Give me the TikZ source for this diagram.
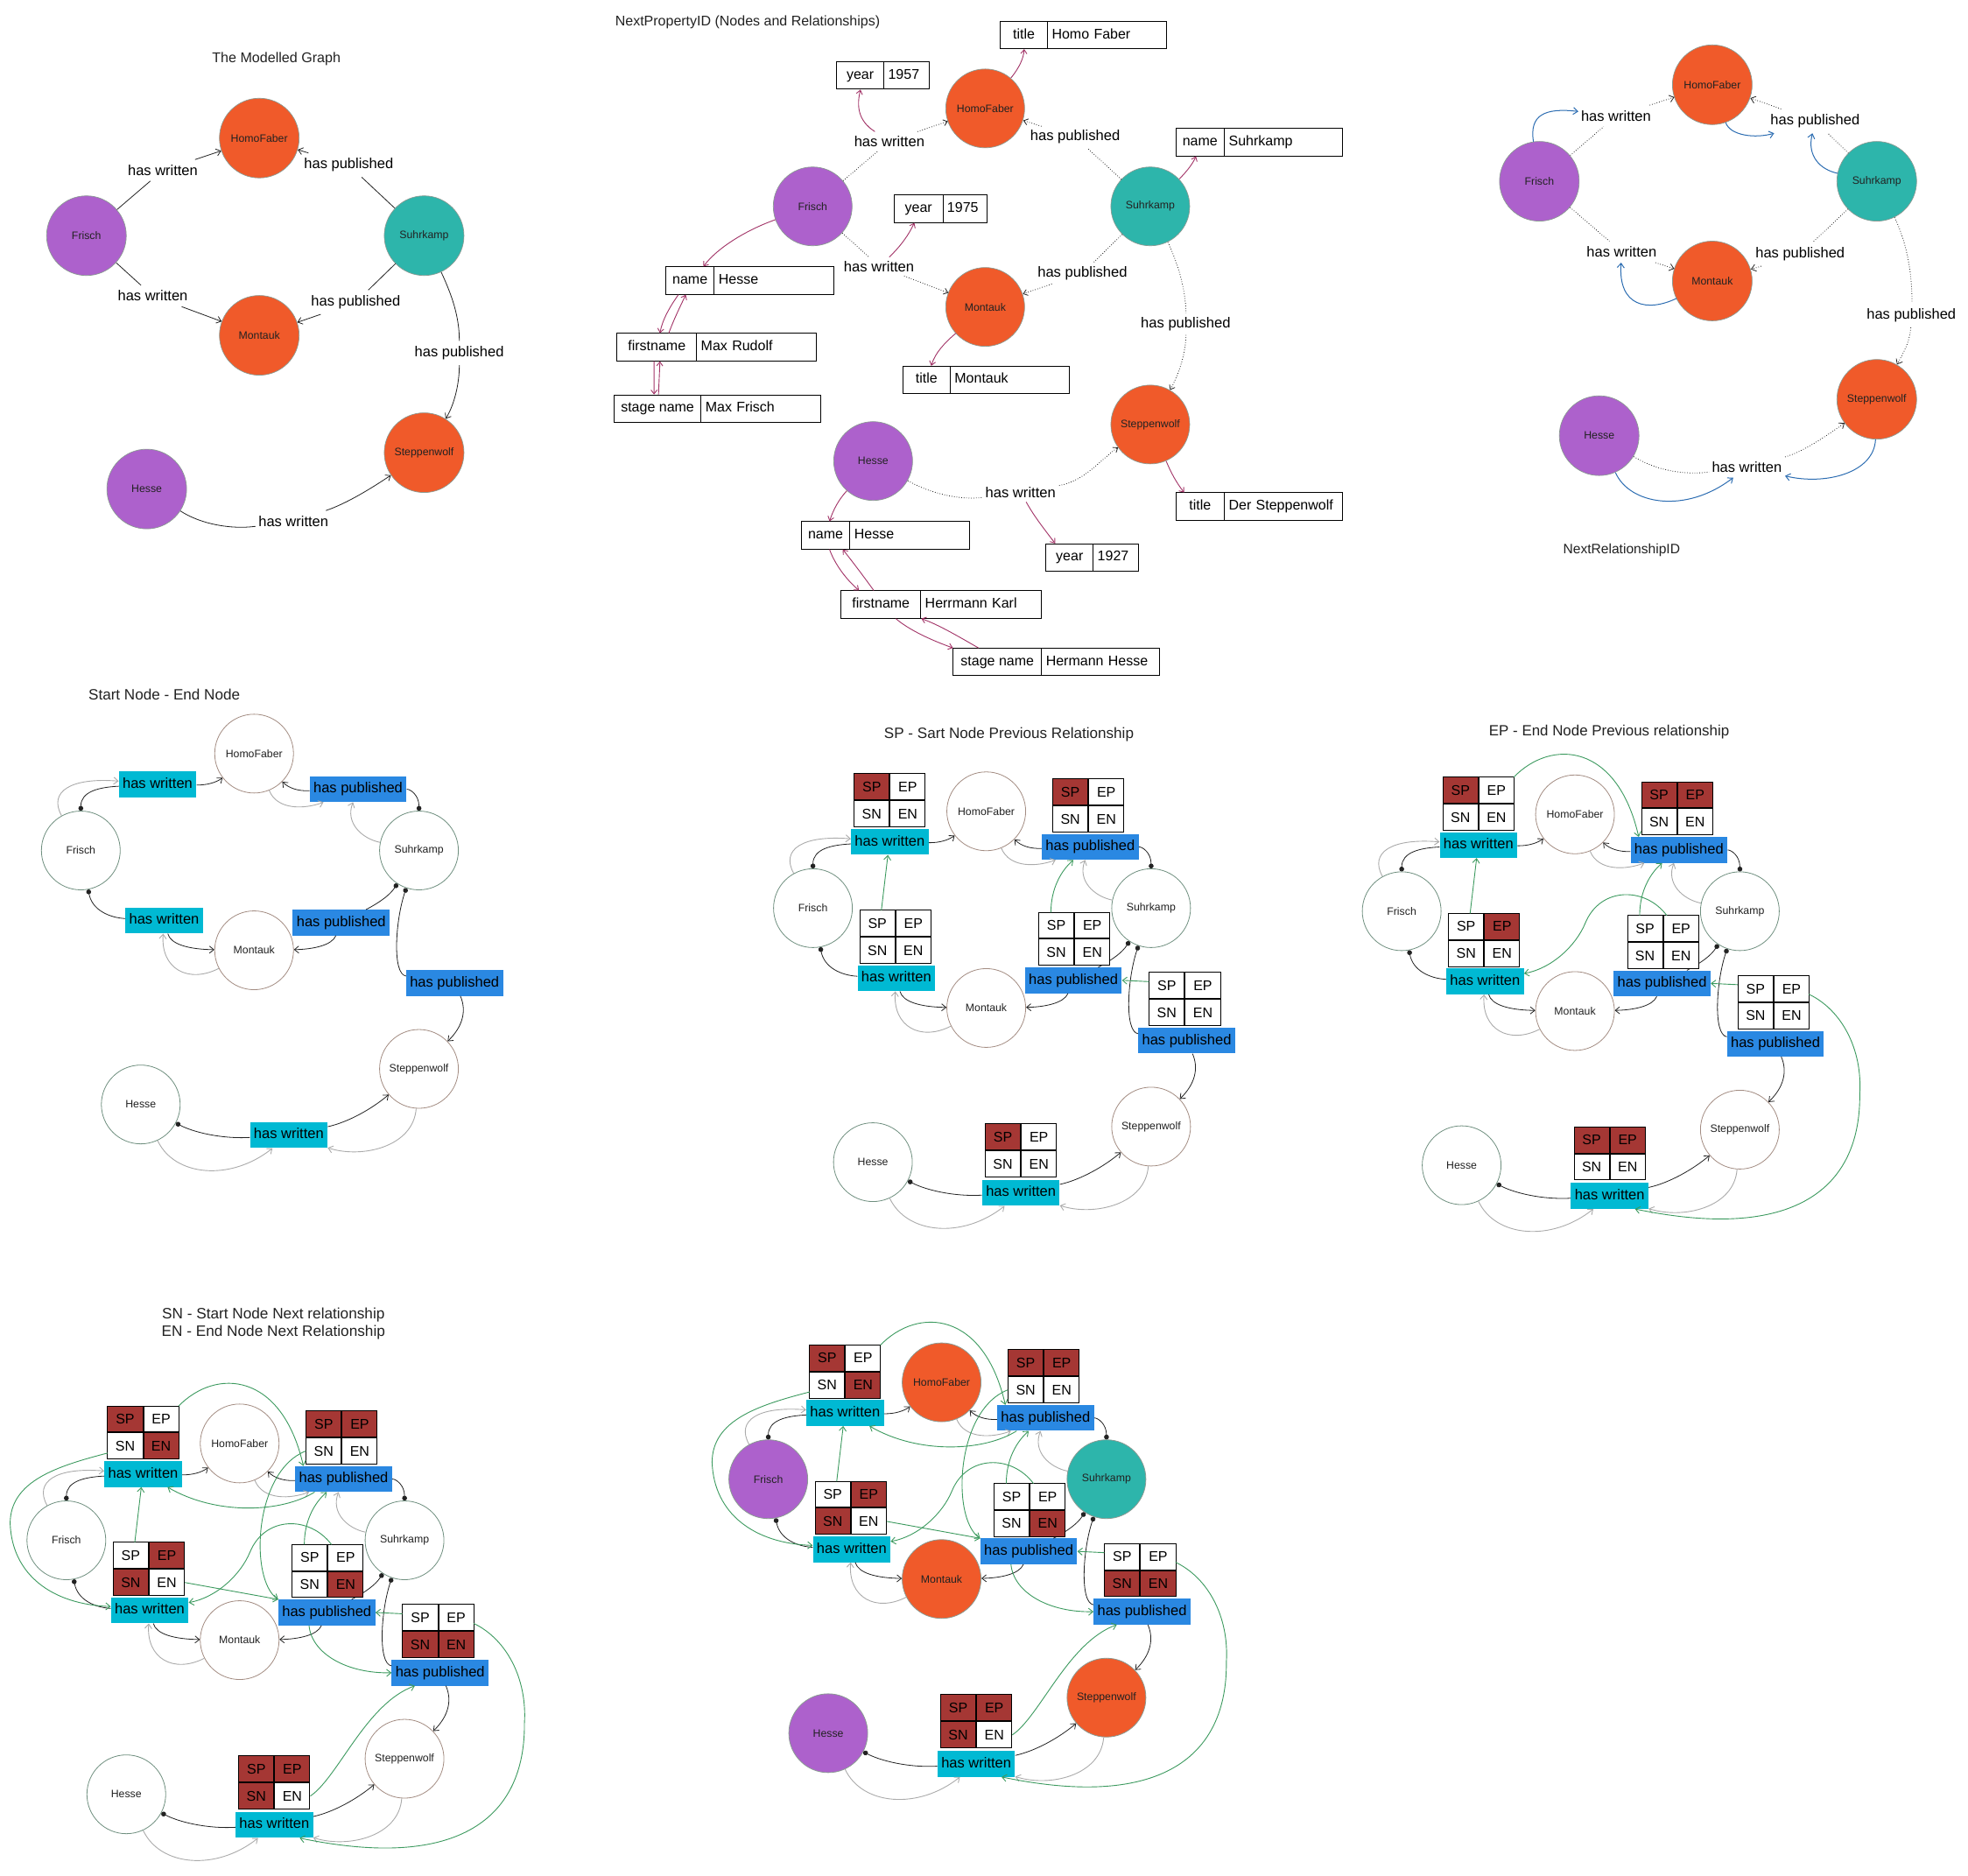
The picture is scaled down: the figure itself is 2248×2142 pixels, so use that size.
\documentclass[tikz,border=0pt]{standalone}
\usepackage{fontspec}
\setmainfont{Liberation Sans}
\usetikzlibrary{arrows.meta,shapes.geometric}
\definecolor{corg}{HTML}{F05A2A}
\definecolor{cpur}{HTML}{AD61CC}
\definecolor{cteal}{HTML}{2DB5AB}
\definecolor{chw}{HTML}{00B9D3}
\definecolor{chp}{HTML}{2A88E2}
\definecolor{tred}{HTML}{A53734}
\definecolor{cgrn}{HTML}{3C9A5F}
\definecolor{cgry}{HTML}{ABABAB}
\definecolor{cblu}{HTML}{2C6DB2}
\definecolor{cprop}{HTML}{A23367}
\definecolor{csb}{HTML}{6F8F7F}
\definecolor{ceb}{HTML}{A38C82}
\definecolor{cnb}{HTML}{8A9A92}
\definecolor{cblk}{HTML}{222222}
\definecolor{ctxt}{HTML}{222222}
\newcommand\myfs[1]{\fontsize{#1}{#1}\selectfont}
\tikzset{
 >={Straight Barb[length=5pt,width=8pt]},
 gnode/.style={circle, minimum size=90pt, inner sep=0pt, line width=0.8pt, font=\myfs{12.3}, text=ctxt},
 pers/.style={draw=csb, fill=white},
 pub/.style={draw=csb, fill=white},
 book/.style={draw=ceb, fill=white},
 hw/.style={fill=chw, font=\myfs{16.5}, minimum height=29.4pt, inner xsep=4.4pt, inner ysep=0pt, text height=12pt, text depth=3.4pt},
 hp/.style={hw, fill=chp},
 tcell/.style={draw=black, line width=1pt, minimum width=40.1pt, minimum height=29.9pt, inner sep=0pt, font=\myfs{16}, text height=11.5pt, text depth=0pt},
 tbox/.style={minimum width=80.2pt, minimum height=59.8pt, inner sep=0pt},
 barr/.style={draw=cblk, line width=0.8pt, ->},
 bdot/.style={draw=cblk, line width=0.8pt, {Circle[length=5.5pt]}-},
 garr/.style={draw=cgry, line width=0.9pt, ->},
 grn/.style={draw=cgrn, line width=0.9pt, ->},
 cn1/.style={circle, draw=cnb, line width=0.7pt, minimum size=91pt, inner sep=0pt, font=\myfs{12.3}, text=ctxt},
 cn2/.style={circle, draw=cnb, line width=0.7pt, minimum size=90pt, inner sep=0pt, font=\myfs{12.3}, text=ctxt},
 cn3/.style={circle, draw=cnb, line width=0.7pt, minimum size=91pt, inner sep=0pt, font=\myfs{12.3}, text=ctxt},
 lab1/.style={font=\myfs{16.5}, inner xsep=3.4pt, inner ysep=6pt},
 lab2/.style={font=\myfs{16.6}, inner xsep=3.4pt, inner ysep=4.5pt},
 lab3/.style={font=\myfs{16.5}, inner xsep=3.2pt, inner ysep=6pt},
 e1/.style={draw=cblk, line width=0.8pt},
 dotl/.style={draw=cblk, line width=0.8pt, dotted},
 sarr/.style={-{Straight Barb[length=4.5pt,width=7pt]}},
 parr/.style={draw=cprop, line width=0.9pt, sarr},
 blu/.style={draw=cblu, line width=1pt, ->},
 pk/.style={draw=black, line width=0.9pt, minimum height=31.3pt, inner sep=0pt, font=\myfs{16}, text height=11.5pt, text depth=3.4pt},
 pv/.style={pk, inner xsep=5pt, align=left},
 ttl/.style={text=ctxt}
}
\newcommand\pbox[7]{%
 \pgfmathsetmacro\pbkw{(#3-#2)*1.684}\pgfmathsetmacro\pbvw{(#4-#3)*1.684-10}%
 \node[pk, minimum width=\pbkw pt, anchor=north west] (#1k) at (#2,#5) {#6};
 \node[pv, text width=\pbvw pt, anchor=north west] (#1) at (#3,#5) {\mbox{#7}};
}
\newcommand\rtab[7]{%
 \node[tbox] (#1) at (#2,#3) {};
 \node[tcell,fill=#4,anchor=south east] (#1sp) at (#2,#3) {SP};
 \node[tcell,fill=#5,anchor=south west] (#1ep) at (#2,#3) {EP};
 \node[tcell,fill=#6,anchor=north east] (#1sn) at (#2,#3) {SN};
 \node[tcell,fill=#7,anchor=north west] (#1en) at (#2,#3) {EN};
}
\newcommand\relgraph[1]{%
 \node[gnode,pers] (#1F) at (0,0) {Frisch};
 \node[gnode,book] (#1HF) at (185,-98) {HomoFaber};
 \node[gnode,pub] (#1S) at (361,0) {Suhrkamp};
 \node[gnode,book] (#1M) at (185,101) {Montauk};
 \node[gnode,book] (#1St) at (361,221) {Steppenwolf};
 \node[gnode,pers] (#1H) at (64,257) {Hesse};
 \node[hw] (#1hw1) at (82,-67) {has written};
 \node[hp] (#1hp1) at (296,-62) {has published};
 \node[hw] (#1hw2) at (89,71) {has written};
 \node[hp] (#1hp2) at (278,73) {has published};
 \node[hp] (#1hp3) at (399,134) {has published};
 \node[hw] (#1hw3) at (222,288) {has written};
 \draw[bdot] (#1F) .. controls (0,-60) and (20,-64) .. (#1hw1);
 \draw[barr] (#1hw1) .. controls (135,-66) and (145,-69) .. (#1HF);
 \draw[bdot] (#1S) .. controls (361,-56) and (352,-62) .. (#1hp1);
 \draw[barr] (#1hp1) .. controls (232,-60) and (222,-63) .. (#1HF);
 \draw[bdot] (#1F) .. controls (12,60) and (30,68) .. (#1hw2);
 \draw[barr] (#1hw2) .. controls (96,95) and (115,100) .. (#1M);
 \draw[bdot] (#1S) .. controls (330,45) and (320,52) .. (#1hp2);
 \draw[barr] (#1hp2) .. controls (268,96) and (248,100) .. (#1M);
 \draw[bdot] (#1S) .. controls (336,70) and (332,125) .. (#1hp3);
 \draw[barr] (#1hp3) .. controls (412,162) and (408,178) .. (#1St);
 \draw[bdot] (#1H) .. controls (120,285) and (150,292) .. (#1hw3);
 \draw[barr] (#1hw3) .. controls (285,275) and (310,262) .. (#1St);
 \draw[garr] (#1F) .. controls (-35,-60) and (-10,-74) .. (#1hw1);
 \draw[garr] (#1HF) .. controls (210,-40) and (240,-42) .. (#1hp1);
 \draw[garr] (#1S) .. controls (300,-12) and (282,-28) .. (#1hp1);
 \draw[garr] (#1M) .. controls (115,135) and (85,120) .. (#1hw2);
 \draw[garr] (#1H) .. controls (100,330) and (160,335) .. (#1hw3);
 \draw[garr] (#1St) .. controls (355,300) and (300,312) .. (#1hw3);
}
\newcommand\greenA[1]{%
 \draw[grn] ([xshift=-15pt]#1T3.north) -- ([xshift=-2pt]#1hw1.south);
 \draw[grn] ([xshift=-25pt]#1T4.north) .. controls (254,-20) and (265,-38) .. ([xshift=-18pt]#1hp1.south);
 \draw[grn] ([yshift=4pt]#1T5sp.west) -- (#1hp2.east);
}
\newcommand\greenB[1]{%
 \draw[grn] (#1T1.north east) .. controls (160,-175) and (230,-170) .. ([xshift=-43pt]#1hp1.north);
 \draw[grn] ([xshift=4pt]#1T4.north) .. controls (260,-25) and (212,-25) .. (196,12) .. controls (186,35) and (160,58) .. ([yshift=8pt]#1hw2.east);
 \draw[grn] ([yshift=8pt]#1T5.east) .. controls (470,100) and (492,140) .. (489,185) .. controls (490,280) and (420,335) .. ([xshift=27pt]#1hw3.south);
}
\newcommand\greenC[1]{%
 \draw[grn] ([yshift=6pt]#1T1.south west) .. controls (-10,-75) and (-60,-60) .. (-60,-17) .. controls (-58,35) and (-15,65) .. ([yshift=4pt]#1hw2.west);
 \draw[grn] (#1T3en.east) -- (#1hp2.north west);
 \draw[grn] ([xshift=-31pt]#1hp1.south) .. controls (230,-28) and (160,-25) .. ([xshift=26pt]#1hw1.south);
 \draw[grn] (#1T2sn.west) .. controls (200,-70) and (195,40) .. (#1hp2.north west);
 \draw[grn] ([xshift=-19pt]#1hp2.south) .. controls (262,115) and (300,135) .. (#1hp3.west);
 \draw[grn] (#1T6en.east) .. controls (290,240) and (320,165) .. ([xshift=-27pt]#1hp3.south);
}
\newcommand\fulltabs[1]{%
 \rtab{#1T1}{82}{-109}{tred}{white}{white}{tred}
 \rtab{#1T2}{294}{-104}{tred}{tred}{white}{white}
 \rtab{#1T3}{88}{29}{white}{tred}{tred}{white}
 \rtab{#1T4}{279}{31}{white}{white}{white}{tred}
 \rtab{#1T5}{397}{92}{white}{white}{tred}{tred}
 \rtab{#1T6}{222}{245}{tred}{tred}{tred}{white}
}
\begin{document}
\begin{tikzpicture}[x=1pt,y=-1pt]
\fill[white] (0,0) rectangle (2248,2142);
\useasboundingbox (0,0) rectangle (2248,2142);

% ---------- Panel 1: The Modelled Graph ----------
\begin{scope}[xscale=1.148, yscale=1.186]
\node[ttl,font=\myfs{16.1}] (t1) at (275,57) {The Modelled Graph};
\node[cn1,fill=cpur] (aF) at (86,227) {Frisch};
\node[cn1,fill=corg] (aHF) at (258,133) {HomoFaber};
\node[cn1,fill=cteal] (aS) at (422,227) {Suhrkamp};
\node[cn1,fill=corg] (aM) at (258,323) {Montauk};
\node[cn1,fill=corg] (aSt) at (422,436) {Steppenwolf};
\node[cn1,fill=cpur] (aH) at (146,471) {Hesse};
\node[lab1] (aL1) at (162,164) {has written};
\node[lab1] (aL2) at (347,159) {has published};
\node[lab1] (aL3) at (152,285) {has written};
\node[lab1] (aL4) at (354,291) {has published};
\node[lab1] (aL5) at (457,340) {has published};
\node[lab1] (aL6) at (292,502) {has written};
\draw[e1] (aF) -- (aL1); \draw[e1,->] (aL1) -- (aHF);
\draw[e1] (aS) -- (aL2); \draw[e1,->] (aL2) -- (aHF);
\draw[e1] (aF) -- (aL3); \draw[e1,->] (aL3) -- (aM);
\draw[e1] (aS) -- (aL4); \draw[e1,->] (aL4) -- (aM);
\draw[e1] (aS) .. controls (450,285) and (457,305) .. (aL5);
\draw[e1,->] (aL5) .. controls (457,370) and (452,390) .. (aSt);
\draw[e1] (aH) .. controls (200,505) and (230,510) .. (aL6);
\draw[e1,->] (aL6) .. controls (345,485) and (370,470) .. (aSt);
\end{scope}

% ---------- Panel 2: NextPropertyID ----------
\begin{scope}[shift={(-461,0)}, xscale=1.684, yscale=1.492]
\node[ttl,font=\myfs{16},anchor=west] (t2) at (689,17) {NextPropertyID (Nodes and Relationships)};
\node[cn2,fill=corg] (bHF) at (942,83) {HomoFaber};
\node[cn2,fill=cpur] (bF) at (825,158) {Frisch};
\node[cn2,fill=cteal] (bS) at (1054,158) {Suhrkamp};
\node[cn2,fill=corg] (bM) at (942,235) {Montauk};
\node[cn2,fill=corg] (bSt) at (1054,325) {Steppenwolf};
\node[cn2,fill=cpur] (bH) at (866,353) {Hesse};
\node[lab2] (bP1) at (877,108) {has written};
\node[lab2] (bP2) at (1003,105) {has published};
\node[lab2] (bP3) at (870,204) {has written};
\node[lab2] (bP4) at (1008,209) {has published};
\node[lab2] (bP5) at (1078,248) {has published};
\node[lab2] (bP6) at (966,377) {has written};
\pbox{pbHF}{952}{984}{1065}{16}{title}{Homo Faber}
\pbox{pbYa}{841}{873}{904}{47}{year}{1957}
\pbox{pbS}{1071}{1104}{1184}{98}{name}{Suhrkamp}
\pbox{pbYb}{880}{913}{943}{149}{year}{1975}
\pbox{pbFn}{725}{758}{839}{204}{name}{Hesse}
\pbox{pbFf}{692}{746}{827}{255}{firstname}{Max Rudolf}
\pbox{pbFs}{690}{749}{830}{302}{stage name}{Max Frisch}
\pbox{pbM}{886}{918}{999}{280}{title}{Montauk}
\pbox{pbSt}{1071}{1104}{1184}{377}{title}{Der Steppenwolf}
\pbox{pbHn}{817}{850}{931}{399}{name}{Hesse}
\pbox{pbYc}{983}{1015}{1046}{416}{year}{1927}
\pbox{pbHf}{844}{898}{980}{452}{firstname}{Herrmann Karl}
\pbox{pbHs}{920}{980}{1060}{496}{stage name}{Hermann Hesse}
\draw[dotl] (bF) -- (bP1); \draw[dotl,sarr] (bP1) -- (bHF);
\draw[dotl] (bS) -- (bP2); \draw[dotl,sarr] (bP2) -- (bHF);
\draw[dotl] (bF) -- (bP3); \draw[dotl,sarr] (bP3) -- (bM);
\draw[dotl] (bS) -- (bP4); \draw[dotl,sarr] (bP4) -- (bM);
\draw[dotl] (bS) .. controls (1072,200) and (1078,220) .. (bP5);
\draw[dotl,sarr] (bP5) .. controls (1078,270) and (1074,285) .. (bSt);
\draw[dotl] (bH) .. controls (905,378) and (925,383) .. (bP6);
\draw[dotl,sarr] (bP6) .. controls (1010,368) and (1020,352) .. (bSt);
\draw[parr] (bHF) .. controls (965,52) and (968,45) .. (pbHFk.south);
\draw[parr] (bP1) .. controls (855,92) and (855,80) .. (pbYak.south);
\draw[parr] (bS) .. controls (1079,131) and (1083,125) .. ([xshift=-3pt]pbSk.south);
\draw[parr] (bF) .. controls (780,176) and (760,190) .. ([xshift=9pt]pbFnk.north);
\draw[parr] ([xshift=-8pt]pbFnk.south) .. controls (728,235) and (723,245) .. ([xshift=2pt]pbFfk.north);
\draw[parr] ([xshift=8pt]pbFfk.north) .. controls (731,244) and (735,235) .. ([xshift=-3pt]pbFnk.south);
\draw[parr] ([xshift=-2pt]pbFfk.south) -- ([xshift=-2.5pt]pbFsk.north);
\draw[parr] ([xshift=0.5pt]pbFsk.north) -- ([xshift=2pt]pbFfk.south);
\draw[parr] (bP3) .. controls (885,188) and (890,180) .. ([xshift=-3pt]pbYbk.south);
\draw[parr] (bM) .. controls (915,262) and (908,270) .. ([xshift=3pt]pbMk.north);
\draw[parr] (bSt) .. controls (1068,362) and (1072,370) .. ([xshift=-11pt]pbStk.north);
\draw[parr] (bH) .. controls (843,382) and (839,390) .. ([xshift=2.5pt]pbHnk.north);
\draw[parr] (bP6) .. controls (975,395) and (982,405) .. ([xshift=-10pt]pbYck.north);
\draw[parr] ([xshift=2.5pt]pbHnk.south) .. controls (840,432) and (848,444) .. ([xshift=-15pt]pbHfk.north);
\draw[parr] ([xshift=-5pt]pbHfk.north) .. controls (860,442) and (852,430) .. ([xshift=11.5pt]pbHnk.south);
\draw[parr] ([xshift=10pt]pbHfk.south) .. controls (890,482) and (905,490) .. (pbHsk.north west);
\draw[parr] ([xshift=-13pt]pbHsk.north) .. controls (925,488) and (910,478) .. (pbHfk.south east);
\end{scope}

% ---------- Panel 3: NextRelationshipID ----------
\begin{scope}[shift={(-114.2,-5.2)}, xscale=1.0676, yscale=1.186]
\node[ttl,font=\myfs{15.6}] (t3) at (1842,534) {NextRelationshipID};
\node[cn3,fill=corg] (cHF) at (1939,86) {HomoFaber};
\node[cn3,fill=cpur] (cF) at (1754,179) {Frisch};
\node[cn3,fill=cteal] (cS) at (2115,179) {Suhrkamp};
\node[cn3,fill=corg] (cM) at (1939,275) {Montauk};
\node[cn3,fill=corg] (cSt) at (2115,389) {Steppenwolf};
\node[cn3,fill=cpur] (cH) at (1818,424) {Hesse};
\node[lab3] (cR1) at (1836,116) {has written};
\node[lab3] (cR2) at (2049,121) {has published};
\node[lab3] (cR3) at (1842,247) {has written};
\node[lab3] (cR4) at (2033,249) {has published};
\node[lab3] (cR5) at (2152,308) {has published};
\node[lab3] (cR6) at (1976,454) {has written};
\draw[dotl] (cF) -- (cR1); \draw[dotl,->] (cR1) -- (cHF);
\draw[dotl] (cS) -- (cR2); \draw[dotl,->] (cR2) -- (cHF);
\draw[dotl] (cF) -- (cR3); \draw[dotl,->] (cR3) -- (cM);
\draw[dotl] (cS) -- (cR4); \draw[dotl,->] (cR4) -- (cM);
\draw[dotl] (cS) .. controls (2148,240) and (2153,270) .. (cR5);
\draw[dotl,->] (cR5) .. controls (2150,335) and (2143,345) .. (cSt);
\draw[dotl] (cH) .. controls (1880,458) and (1910,462) .. (cR6);
\draw[dotl,->] (cR6) .. controls (2035,440) and (2060,425) .. (cSt);
\draw[blu] (cF) .. controls (1743,115) and (1760,108) .. (cR1);
\draw[blu] (cHF) .. controls (1958,135) and (1985,138) .. (cR2);
\draw[blu] (cS) .. controls (2055,168) and (2040,155) .. (cR2);
\draw[blu] (cM) .. controls (1870,305) and (1838,300) .. (cR3);
\draw[blu] (cH) .. controls (1850,490) and (1910,500) .. (cR6);
\draw[blu] (cSt) .. controls (2112,460) and (2060,472) .. (cR6);
\end{scope}

% ---------- Titles of lower panels ----------
\node[ttl,font=\myfs{17.1}] (t4) at (187.6,793.2) {Start Node - End Node};
\node[ttl,font=\myfs{17.1}] (t5) at (1152.5,838.8) {SP - Sart Node Previous Relationship};
\node[ttl,font=\myfs{16.9}] (t6) at (1838.1,836.5) {EP - End Node Previous relationship};
\node[ttl,font=\myfs{17.2},align=center] (t7) at (312.3,1512) {SN - Start Node Next relationship\\[2pt]EN - End Node Next Relationship};

% ---------- Panel 4 ----------
\begin{scope}[shift={(92.3,971.5)}, xscale=1.07, yscale=1.129]
 \relgraph{d}
\end{scope}

% ---------- Panel 5 ----------
\begin{scope}[shift={(928.6,1037.4)}, xscale=1.07, yscale=1.129]
 \relgraph{e}
 \rtab{eT1}{82}{-109}{tred}{white}{white}{white}
 \rtab{eT2}{294}{-104}{tred}{white}{white}{white}
 \rtab{eT3}{88}{29}{white}{white}{white}{white}
 \rtab{eT4}{279}{31}{white}{white}{white}{white}
 \rtab{eT5}{397}{92}{white}{white}{white}{white}
 \rtab{eT6}{222}{245}{tred}{white}{white}{white}
 \greenA{e}
\end{scope}

% ---------- Panel 6 ----------
\begin{scope}[shift={(1601.1,1040.9)}, xscale=1.07, yscale=1.129]
 \relgraph{f}
 \rtab{fT1}{82}{-109}{tred}{white}{white}{white}
 \rtab{fT2}{294}{-104}{tred}{tred}{white}{white}
 \rtab{fT3}{88}{29}{white}{tred}{white}{white}
 \rtab{fT4}{279}{31}{white}{white}{white}{white}
 \rtab{fT5}{397}{92}{white}{white}{white}{white}
 \rtab{fT6}{222}{245}{tred}{tred}{white}{white}
 \greenA{f}
 \greenB{f}
\end{scope}

% ---------- Panel 7 ----------
\begin{scope}[shift={(75.8,1759.5)}, xscale=1.07, yscale=1.129]
 \relgraph{g}
 \fulltabs{g}
 \greenA{g}
 \greenB{g}
 \greenC{g}
\end{scope}

% ---------- Panel 8 ----------
\begin{scope}[shift={(877.6,1689.7)}, xscale=1.07, yscale=1.129,
  pers/.style={draw=cnb, fill=cpur}, pub/.style={draw=cnb, fill=cteal}, book/.style={draw=cnb, fill=corg}]
 \relgraph{h}
 \fulltabs{h}
 \greenA{h}
 \greenB{h}
 \greenC{h}
\end{scope}
\end{tikzpicture}
\end{document}
